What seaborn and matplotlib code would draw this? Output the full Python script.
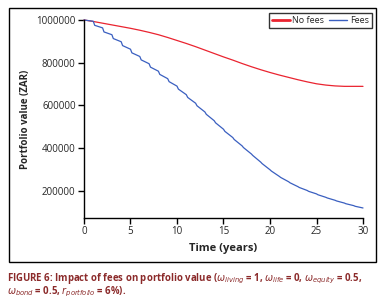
import pandas as pd
import seaborn as sns
import matplotlib.pyplot as plt
from matplotlib.lines import Line2D
from matplotlib.patches import Rectangle

# Portfolio value without fees, one value per year (t = 0..30)
years = list(range(0, 31))
no_fees = [1000000, 993000, 985000, 977000, 969000, 961000, 952000, 942000, 931000, 918000,
           904000, 890000, 875000, 859000, 843000, 827000, 812000, 796000, 781000, 767000,
           754000, 742000, 731000, 720000, 710000, 701000, 695000, 691000, 689000, 689000,
           689000]

# Portfolio value with fees: value just before the annual fee (t = 1..30)
fees_before = [994000, 963000, 931000, 898000, 863000, 829000, 795000, 760000, 725000, 690000,
               650000, 610000, 569000, 528000, 488000, 449000, 410000, 372000, 334000, 298000,
               267000, 242000, 219000, 201000, 185000, 169000, 155000, 142000, 130000, 119000]
# ... and just after the fee is taken (t = 0..30)
fees_after = [1000000, 975000, 944000, 913000, 880000, 846000, 813000, 779000, 745000, 711000,
              676000, 637000, 598000, 558000, 518000, 478000, 440000, 402000, 365000, 327000,
              292000, 262000, 237000, 215000, 197000, 181000, 166000, 152000, 139000, 127000,
              114000]

FEE_LAG = 0.15  # the fee drop is spread over a short part of the year

sns.set_style("ticks")
plt.rcParams['font.family'] = ['Open Sans', 'DejaVu Sans']
plt.rcParams['mathtext.fontset'] = 'dejavusans'

# long-form frames for seaborn
df_nofees = pd.DataFrame({'Time': years, 'Value': no_fees})
fee_t = [0.0]
fee_v = [fees_after[0]]
for i, y in enumerate(years[1:]):
    fee_t += [y, y + FEE_LAG]
    fee_v += [fees_before[i], fees_after[i + 1]]
df_fees = pd.DataFrame({'Time': fee_t, 'Value': fee_v})
df_fees = df_fees[df_fees['Time'] <= 30]

red = '#ea2430'
blue = '#3a5fc0'

fig = plt.figure(figsize=(3.83, 3.08), dpi=100)
ax = fig.add_axes((0.2193, 0.2922, 0.7285, 0.6429))

sns.lineplot(data=df_nofees, x='Time', y='Value', color=red, linewidth=0.9, ax=ax,
             estimator=None, sort=False, clip_on=False)
sns.lineplot(data=df_fees, x='Time', y='Value', color=blue, linewidth=0.9, ax=ax,
             estimator=None, sort=False, clip_on=False)

ax.set_xlim(0, 30)
ax.set_ylim(72000, 1000000)
ax.set_xticks([0, 5, 10, 15, 20, 25, 30])
ax.set_yticks([200000, 400000, 600000, 800000, 1000000])
ax.set_yticklabels(['200000', '400000', '600000', '800000', '1000000'])
ax.tick_params(axis='both', labelsize=7, length=4, width=1, color='black', pad=2)
sns.despine(ax=ax)
for s in ['left', 'bottom']:
    ax.spines[s].set_linewidth(1)
    ax.spines[s].set_color('black')

ax.set_xlabel('Time (years)', fontsize=8, fontweight='bold', labelpad=4)
ax.set_ylabel('Portfolio value (ZAR)', fontsize=7, fontweight='bold', labelpad=4)

handles = [Line2D([], [], color=red, linewidth=2),
           Line2D([], [], color=blue, linewidth=1)]
leg = fig.legend(handles, ['No fees', 'Fees'], loc='upper right', ncol=2,
                 bbox_to_anchor=(0.971, 0.958), fontsize=6.5, frameon=True, fancybox=False,
                 edgecolor='black', handlelength=2.0, handletextpad=0.3, columnspacing=0.5,
                 borderpad=0.35, borderaxespad=0)
leg.get_frame().set_linewidth(1)

# outer box around the chart
fig.patches.append(Rectangle((0.0235, 0.1494), 0.958, 0.8247, transform=fig.transFigure,
                             fill=False, edgecolor='black', linewidth=1))

cap_color = '#8b2a2a'
fig.text(0.018, 0.097,
         r'FIGURE 6: Impact of fees on portfolio value ($\omega_{living}$ = 1, $\omega_{life}$ = 0, $\omega_{equity}$ = 0.5,',
         fontsize=6.9, color=cap_color, fontweight='bold', va='center')
fig.text(0.018, 0.054,
         r'$\omega_{bond}$ = 0.5, $r_{portfolio}$ = 6%).',
         fontsize=6.9, color=cap_color, fontweight='bold', va='center')

plt.savefig('out.png', dpi=100)
